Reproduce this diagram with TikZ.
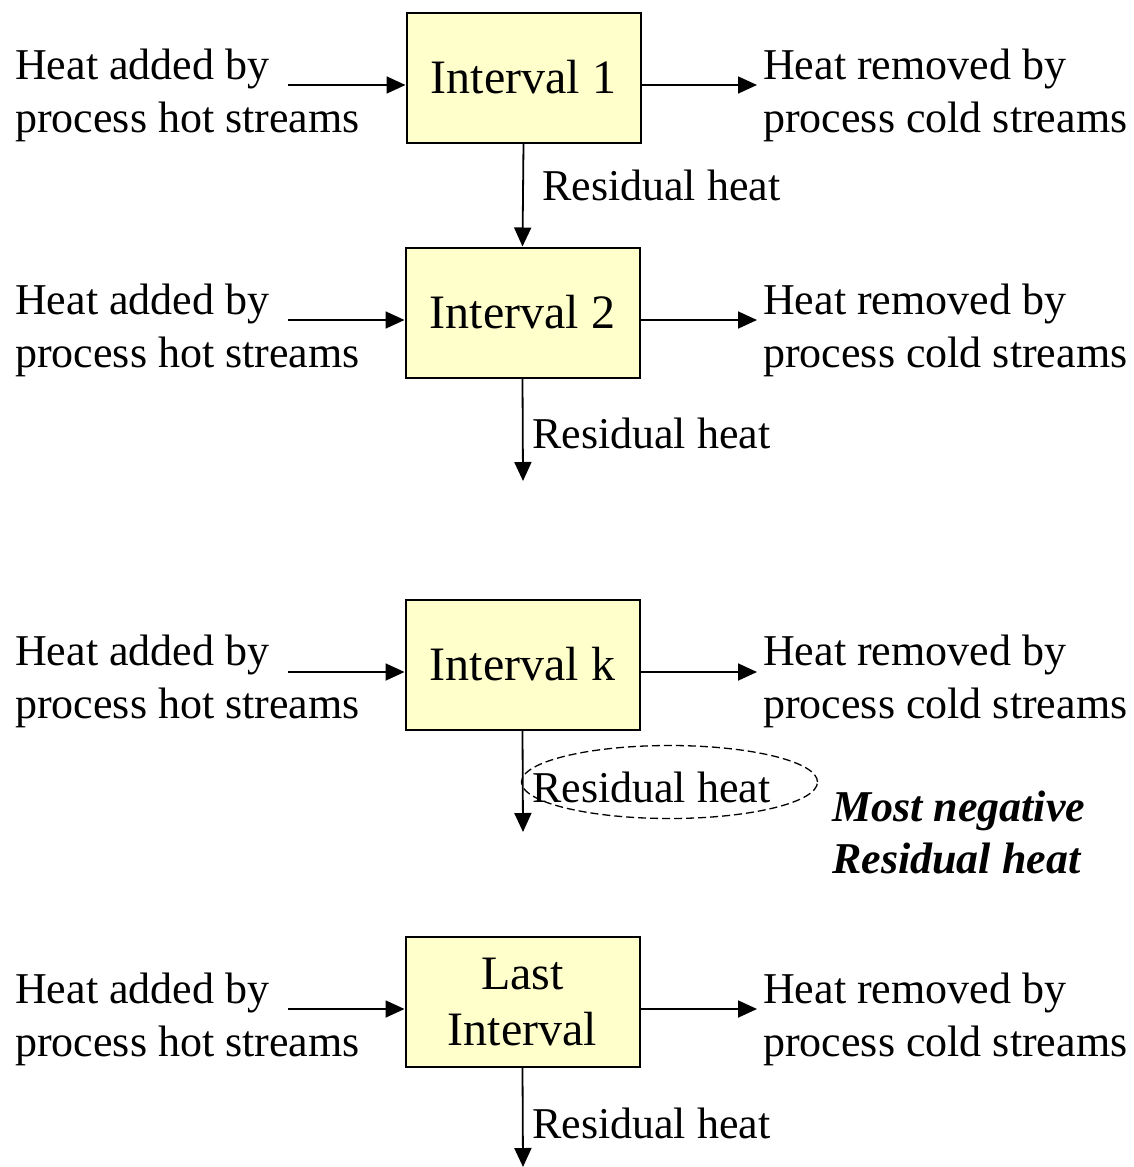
\documentclass[tikz,border=0pt]{standalone}
\usepackage{fontspec}
\setmainfont{Liberation Serif}
\usetikzlibrary{arrows.meta,shapes.geometric}
\definecolor{boxfill}{HTML}{FFFFCC}
\tikzset{
  ibox/.style={draw=black, line width=2pt, fill=boxfill, minimum width=234pt, minimum height=130pt, inner sep=0pt, align=center, font=\fontsize{48}{56}\selectfont},
  lbl/.style={inner sep=0pt, align=left, anchor=west, font=\fontsize{44}{53}\selectfont},
  flow/.style={line width=1.8pt, -{Triangle[length=19pt,width=17pt]}},
  blbl/.style={inner sep=0pt, align=left, anchor=west, font=\fontsize{44}{52}\selectfont\bfseries\itshape}
}
\begin{document}
\begin{tikzpicture}[x=1pt,y=-1pt]
\path[use as bounding box] (0,0) rectangle (1133,1167);
% boxes
\node[ibox] (i1) at (523.5,77.5) {Interval 1};
\node[ibox] (i2) at (522.5,312.5) {Interval 2};
\node[ibox] (ik) at (522.5,664.5) {Interval k};
\node[ibox] (il) at (522.5,1002) {Last\\Interval};
% left/right texts
\foreach \n/\y in {1/65,2/300,k/651,l/989}{
  \node[lbl] (hl\n) at (15,\y+30.5) {Heat added by\\process hot streams};
  \node[lbl] (hr\n) at (763,\y+30.5) {Heat removed by\\process cold streams};
}
% connector end points
\coordinate (s1) at (288,85);
\coordinate (e1) at (757,85);
\coordinate (s2) at (288,320);
\coordinate (e2) at (757,320);
\coordinate (sk) at (288,672);
\coordinate (ek) at (757,672);
\coordinate (sl) at (288,1009);
\coordinate (el) at (757,1009);
\coordinate (d2) at (523,481);
\coordinate (dk) at (523,832);
\coordinate (dl) at (523,1167);
\foreach \n in {1,2,k,l}{
  \draw[flow] (s\n) -- (s\n -| i\n.west);
  \draw[flow] (e\n -| i\n.east) -- (e\n);
}
\draw[flow] (i1.south) -- (i2.north);
\draw[flow] (i2.south) -- (d2);
\draw[flow] (ik.south) -- (dk);
\draw[flow] (il.south) -- (dl);
% residual heat labels
\node[lbl] (r1) at (542,185) {Residual heat};
\node[lbl] (r2) at (532,433) {Residual heat};
\node[lbl] (rk) at (532,787) {Residual heat};
\node[lbl] (rl) at (532,1123) {Residual heat};
\node[draw, dashed, dash pattern=on 8pt off 4pt, line width=1.3pt, ellipse, minimum width=296pt, minimum height=73pt, inner sep=0pt] (ell) at (669.5,782) {};
\node[blbl] (mn) at (832,832) {Most negative\\Residual heat};
\end{tikzpicture}
\end{document}
